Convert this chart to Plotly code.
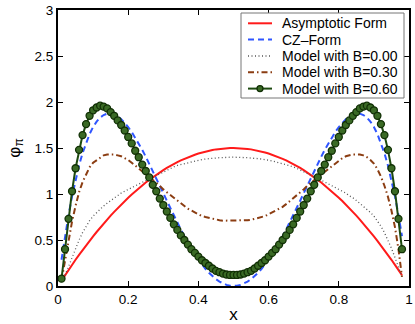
import plotly.graph_objects as go

# x grid (0.01 .. 0.98)
x = [0.01, 0.02, 0.03, 0.04, 0.05, 0.06, 0.07, 0.08, 0.09, 0.10,
     0.11, 0.12, 0.13, 0.14, 0.15, 0.16, 0.17, 0.18, 0.19, 0.20,
     0.21, 0.22, 0.23, 0.24, 0.25, 0.26, 0.27, 0.28, 0.29, 0.30,
     0.31, 0.32, 0.33, 0.34, 0.35, 0.36, 0.37, 0.38, 0.39, 0.40,
     0.41, 0.42, 0.43, 0.44, 0.45, 0.46, 0.47, 0.48, 0.49, 0.50,
     0.51, 0.52, 0.53, 0.54, 0.55, 0.56, 0.57, 0.58, 0.59, 0.60,
     0.61, 0.62, 0.63, 0.64, 0.65, 0.66, 0.67, 0.68, 0.69, 0.70,
     0.71, 0.72, 0.73, 0.74, 0.75, 0.76, 0.77, 0.78, 0.79, 0.80,
     0.81, 0.82, 0.83, 0.84, 0.85, 0.86, 0.87, 0.88, 0.89, 0.90,
     0.91, 0.92, 0.93, 0.94, 0.95, 0.96, 0.97, 0.98]

asymptotic = [.059, .118, .175, .230, .285, .338, .391, .442, .491, .540,
              .587, .634, .679, .722, .765, .806, .847, .886, .923, .960,
              .995, 1.030, 1.063, 1.094, 1.125, 1.154, 1.183, 1.210, 1.235, 1.260,
              1.283, 1.306, 1.327, 1.346, 1.365, 1.382, 1.399, 1.414, 1.427, 1.440,
              1.451, 1.462, 1.471, 1.478, 1.485, 1.490, 1.495, 1.498, 1.499, 1.500,
              1.499, 1.498, 1.495, 1.490, 1.485, 1.478, 1.471, 1.462, 1.451, 1.440,
              1.427, 1.414, 1.399, 1.382, 1.365, 1.346, 1.327, 1.306, 1.283, 1.260,
              1.235, 1.210, 1.183, 1.154, 1.125, 1.094, 1.063, 1.030, .995, .960,
              .923, .886, .847, .806, .765, .722, .679, .634, .587, .540,
              .491, .442, .391, .338, .285, .230, .175, .118]

cz_form = [.285, .542, .771, .975, 1.154, 1.310, 1.444, 1.558, 1.652, 1.728,
           1.787, 1.830, 1.858, 1.873, 1.874, 1.864, 1.844, 1.814, 1.775, 1.728,
           1.674, 1.614, 1.549, 1.480, 1.406, 1.330, 1.251, 1.171, 1.090, 1.008,
           .927, .846, .767, .689, .614, .542, .473, .407, .345, .288,
           .235, .187, .144, .106, .074, .048, .027, .012, .003, 0.0,
           .003, .012, .027, .048, .074, .106, .144, .187, .235, .288,
           .345, .407, .473, .542, .614, .689, .767, .846, .927, 1.008,
           1.090, 1.171, 1.251, 1.330, 1.406, 1.480, 1.549, 1.614, 1.674, 1.728,
           1.775, 1.814, 1.844, 1.864, 1.874, 1.873, 1.858, 1.830, 1.787, 1.728,
           1.652, 1.558, 1.444, 1.310, 1.154, .975, .771, .542]

model_b000 = [.05, .12, .21, .31, .41, .50, .58, .65, .71, .76,
              .80, .84, .87, .90, .93, .96, .98, 1.01, 1.03, 1.05,
              1.07, 1.09, 1.11, 1.13, 1.15, 1.165, 1.18, 1.20, 1.22, 1.24,
              1.26, 1.28, 1.295, 1.31, 1.32, 1.33, 1.34, 1.35, 1.36, 1.37,
              1.375, 1.38, 1.385, 1.39, 1.39, 1.395, 1.395, 1.40, 1.40, 1.40,
              1.40, 1.40, 1.395, 1.395, 1.39, 1.39, 1.385, 1.38, 1.375, 1.37,
              1.36, 1.35, 1.34, 1.33, 1.32, 1.31, 1.295, 1.28, 1.26, 1.24,
              1.22, 1.20, 1.18, 1.165, 1.15, 1.13, 1.11, 1.09, 1.07, 1.05,
              1.03, 1.01, .98, .96, .93, .90, .87, .84, .80, .76,
              .71, .65, .58, .50, .41, .31, .21, .10]

model_b030 = [.06, .28, .50, .70, .87, 1.02, 1.13, 1.22, 1.29, 1.34,
              1.37, 1.40, 1.42, 1.43, 1.43, 1.43, 1.42, 1.41, 1.39, 1.37,
              1.34, 1.31, 1.28, 1.25, 1.22, 1.19, 1.16, 1.12, 1.09, 1.05,
              1.02, .98, .95, .92, .89, .86, .84, .82, .80, .78,
              .76, .75, .74, .73, .72, .715, .71, .71, .71, .71,
              .71, .71, .71, .715, .72, .73, .74, .75, .76, .78,
              .80, .82, .84, .86, .89, .92, .95, .98, 1.02, 1.05,
              1.09, 1.12, 1.16, 1.19, 1.22, 1.25, 1.28, 1.31, 1.34, 1.37,
              1.39, 1.41, 1.42, 1.43, 1.43, 1.43, 1.42, 1.40, 1.37, 1.33,
              1.27, 1.19, 1.09, .97, .82, .64, .40, .10]

model_b060 = [.08, .40, .73, 1.03, 1.28, 1.48, 1.64, 1.76, 1.85, 1.91,
              1.94, 1.96, 1.95, 1.93, 1.89, 1.85, 1.80, 1.75, 1.69, 1.62,
              1.55, 1.47, 1.40, 1.32, 1.25, 1.18, 1.10, 1.03, .95, .88,
              .81, .74, .67, .61, .55, .50, .45, .40, .36, .32,
              .28, .25, .22, .19, .165, .15, .135, .125, .12, .12,
              .12, .125, .135, .15, .165, .19, .22, .25, .28, .32,
              .36, .40, .45, .50, .55, .61, .67, .74, .81, .88,
              .95, 1.03, 1.10, 1.18, 1.25, 1.32, 1.40, 1.47, 1.55, 1.62,
              1.69, 1.75, 1.80, 1.85, 1.89, 1.93, 1.95, 1.96, 1.94, 1.91,
              1.85, 1.76, 1.64, 1.48, 1.28, 1.03, .73, .40]

labels = ['Asymptotic Form', 'CZ\u2013Form', 'Model with B=0.00',
          'Model with B=0.30', 'Model with B=0.60']

FONT = "Liberation Sans, Arial, sans-serif"

styles = [
    dict(color='#ff1a1a', width=2),
    dict(color='#2f55ff', width=2, dash='6px,4px'),
    dict(color='#555555', width=1.3, dash='1px,2.5px'),
    dict(color='#8b3d12', width=2, dash='6px,3px,1.5px,3px'),
    dict(color='#1d4a10', width=2),
]
marker_style = dict(symbol='circle', size=7, color='#3a6a25',
                    line=dict(color='#113005', width=1.3))

fig = go.Figure()
series = [asymptotic, cz_form, model_b000, model_b030, model_b060]
for i, (name, ys) in enumerate(zip(labels, series)):
    fig.add_trace(go.Scatter(
        x=x, y=ys, name=name, showlegend=False,
        mode='lines+markers' if i == 4 else 'lines',
        line=styles[i],
        marker=marker_style if i == 4 else None,
    ))

# hand-built legend box (matlab style: compact rows)
W, H, L, T = 351.0, 276.0, 58.0, 10.0
def px(p):
    return (p - L) / W
def py(p):
    return (T + H - p) / H

shapes = [dict(type='rect', xref='paper', yref='paper',
               x0=px(241), x1=px(404), y0=py(98), y1=py(13),
               line=dict(color='#777777', width=1), fillcolor='white', layer='above')]
annotations = []
row_y = [23.3, 39.6, 56.0, 72.3, 88.6]
for i, name in enumerate(labels):
    ln = dict(styles[i])
    shapes.append(dict(type='line', xref='paper', yref='paper',
                       x0=px(248), x1=px(272), y0=py(row_y[i]), y1=py(row_y[i]),
                       line=ln, layer='above'))
    annotations.append(dict(text=name, xref='paper', yref='paper',
                            x=px(280), y=py(row_y[i]), xanchor='left', yanchor='middle',
                            showarrow=False, font=dict(family=FONT, size=14, color='black')))
shapes.append(dict(type='circle', xref='paper', yref='paper',
                   xsizemode='pixel', ysizemode='pixel',
                   xanchor=px(260), yanchor=py(row_y[4]),
                   x0=-3, x1=3, y0=-3, y1=3,
                   fillcolor='#3a6a25', line=dict(color='#113005', width=1.3), layer='above'))

axis_common = dict(
    showline=True, linecolor='black', linewidth=2, mirror='allticks',
    ticks='inside', ticklen=5, tickwidth=1, tickcolor='black',
    showgrid=False, zeroline=False, automargin=False,
    tickfont=dict(family=FONT, size=13.5, color='black'),
)

fig.update_layout(
    width=415, height=324,
    margin=dict(l=58, r=6, t=10, b=38),
    paper_bgcolor='white', plot_bgcolor='white',
    font=dict(family=FONT, color='black'),
    xaxis=dict(range=[0, 1], tickvals=[0, 0.2, 0.4, 0.6, 0.8, 1],
               ticktext=['0', '0.2', '0.4', '0.6', '0.8', '1'],
               title=dict(text='x', font=dict(family=FONT, size=17), standoff=2),
               **axis_common),
    yaxis=dict(range=[0, 3], tickvals=[0, 0.5, 1, 1.5, 2, 2.5, 3],
               ticktext=['0', '0.5', '1', '1.5', '2', '2.5', '3'],
               title=dict(text='\u03c6<sub>\u03c0</sub>', font=dict(family=FONT, size=17), standoff=10),
               **axis_common),
    shapes=shapes,
    annotations=annotations,
)

# page margin off so the figure sits at the window's top-left corner
fig.write_html("out.html", config={'displayModeBar': False},
               post_script="document.body.style.margin='0';")
